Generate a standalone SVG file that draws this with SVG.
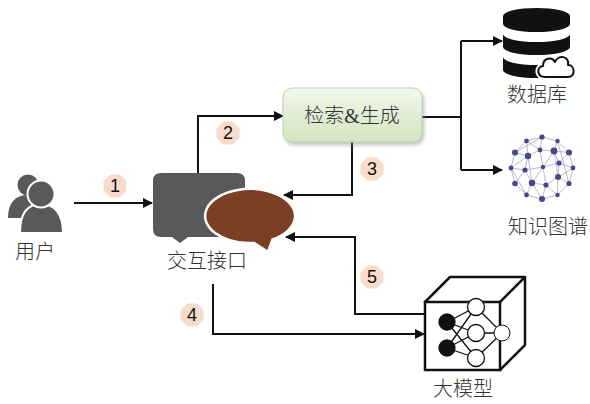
<svg xmlns="http://www.w3.org/2000/svg" width="590" height="404" viewBox="0 0 590 404">
  <style>
    .lbl { font-family: "Liberation Serif", "Noto Sans CJK SC", serif; font-size: 20px; font-weight: 300; fill: #333; text-anchor: middle; }
    .num { font-family: "Liberation Sans", "Noto Sans", sans-serif; font-size: 18px; fill: #111; text-anchor: middle; }
    .badge { fill: #f8dccb; }
    .wire { fill: none; stroke: #111; stroke-width: 2; }
    .arrow { fill: none; stroke: #111; stroke-width: 2; marker-end: url(#head); }
    .kg-edge { stroke: #a9a9b8; stroke-width: 0.8; }
    .kg-node { fill: #46468a; }
    .nn { stroke: #111; stroke-width: 1.3; }
  </style>
  <defs>
    <marker id="head" viewBox="0 0 10 10" refX="9" refY="5" markerWidth="5" markerHeight="5" orient="auto" markerUnits="strokeWidth">
      <path d="M0,0 L10,5 L0,10 Z" fill="#111"/>
    </marker>
    <polygon id="oct" points="11.5,4.8 4.8,11.5 -4.8,11.5 -11.5,4.8 -11.5,-4.8 -4.8,-11.5 4.8,-11.5 11.5,-4.8"/>
    <linearGradient id="boxFill" x1="0" y1="0" x2="0" y2="1">
      <stop offset="0" stop-color="#f1f7eb"/>
      <stop offset="1" stop-color="#d3e4c2"/>
    </linearGradient>
    <filter id="soft" x="-20%" y="-20%" width="140%" height="150%">
      <feGaussianBlur stdDeviation="2"/>
    </filter>
  </defs>

  <!-- connectors -->
  <g id="connectors">
    <path class="arrow" d="M74,203 H152"/>
    <path class="arrow" d="M198,173 V116 H283"/>
    <path class="wire" d="M422,117 H461 M461,41 V170"/>
    <path class="arrow" d="M461,41 H502"/>
    <path class="arrow" d="M461,170 H502"/>
    <path class="arrow" d="M352,142 V195 H284"/>
    <path class="arrow" d="M427,314 H355 V237 H286"/>
    <path class="arrow" d="M213,284 V334 H424"/>
  </g>

  <!-- step badges -->
  <g id="badges">
    <use href="#oct" class="badge" x="115" y="186"/>
    <text class="num" x="115" y="192">1</text>
    <use href="#oct" class="badge" x="228" y="133"/>
    <text class="num" x="228" y="139">2</text>
    <use href="#oct" class="badge" x="372" y="169"/>
    <text class="num" x="372" y="175">3</text>
    <use href="#oct" class="badge" x="192" y="315"/>
    <text class="num" x="192" y="321">4</text>
    <use href="#oct" class="badge" x="372" y="277"/>
    <text class="num" x="372" y="283">5</text>
  </g>

  <!-- user -->
  <g id="user">
    <circle cx="28" cy="185" r="10.5" fill="#58595b"/>
    <path d="M8,218 C8,203 15,195 28,195 C41,195 47,203 47,218 Z" fill="#58595b"/>
    <path d="M20,233 C20,213 28,204 41,204 C54,204 63,213 63,233 Z" fill="#58595b" stroke="#fff" stroke-width="2"/>
    <circle cx="41" cy="194" r="13.5" fill="#58595b" stroke="#fff" stroke-width="2"/>
    <text class="lbl" x="35" y="259">用户</text>
  </g>

  <!-- interaction interface -->
  <g id="interface">
    <path d="M161,173 H237 Q245,173 245,181 V229 Q245,237 237,237 H188 L180,243 L172,237 H161 Q153,237 153,229 V181 Q153,173 161,173 Z" fill="#58595b"/>
    <path d="M253.9,242.9 A45,27 0 1 1 272.5,239.4 L268,252 Z" fill="#7b3f26" stroke="#fff" stroke-width="2.5" stroke-linejoin="round"/>
    <text class="lbl" x="207" y="268">交互接口</text>
  </g>

  <!-- retrieval & generation -->
  <g id="retrieval">
    <rect x="285" y="91" width="139" height="54" rx="9" fill="#8a8a8a" opacity="0.55" filter="url(#soft)"/>
    <rect x="283" y="88" width="139" height="54" rx="9" fill="url(#boxFill)" stroke="#c3d0b6" stroke-width="1"/>
    <text class="lbl" x="352" y="123">检索&amp;生成</text>
  </g>

  <!-- database -->
  <g id="database">
    <path d="M503,16 A33.5,8 0 0 1 570,16 V24 A33.5,8 0 0 1 503,24 Z" fill="#111"/>
    <path d="M503,34 A33.5,8 0 0 0 570,34 V47 A33.5,8 0 0 1 503,47 Z" fill="#111"/>
    <path d="M503,57 A33.5,8 0 0 0 570,57 V70 A33.5,8 0 0 1 503,70 Z" fill="#111"/>
    <path d="M545,77 C537,77 536,67 543,66 C543,58 552,56 555,62 C558,54 570,56 568,65 C575,65 576,77 568,77 Z" fill="#fff" stroke="#fff" stroke-width="6" stroke-linejoin="round"/>
    <path d="M545,77 C537,77 536,67 543,66 C543,58 552,56 555,62 C558,54 570,56 568,65 C575,65 576,77 568,77 Z" fill="#fff" stroke="#111" stroke-width="2" stroke-linejoin="round"/>
    <text class="lbl" x="537" y="102">数据库</text>
  </g>

  <!-- knowledge graph -->
  <g id="knowledge-graph">
    <g class="kg-edge">
      <path d="M573,168 L569,152.5 L557.5,141 L542,137 L526.5,141 L515,152.5 L511,168 L515,183.5 L526.5,195 L542,199 L557.5,195 L569,183.5 Z" fill="none"/>
      <path d="M559,163 L554,151 L540,150 L528,156 L525,170 L532,183 L546,185 L558,177 Z" fill="none"/>
      <path d="M543,167 L559,163 M543,167 L540,150 M543,167 L525,170 M543,167 L546,185 M543,167 L554,151 M543,167 L532,183" fill="none"/>
      <path d="M573,168 L559,163 M569,152.5 L554,151 M557.5,141 L554,151 M542,137 L540,150 M526.5,141 L540,150 M515,152.5 L528,156 M511,168 L525,170 M515,183.5 L525,170 M526.5,195 L532,183 M542,199 L546,185 M557.5,195 L546,185 M569,183.5 L558,177 M573,168 L558,177 M569,152.5 L559,163 M526.5,141 L528,156 M511,168 L528,156 M542,199 L532,183 M557.5,195 L558,177" fill="none"/>
      <path d="M557.5,141 L569,183.5 M515,152.5 L542,137 M526.5,195 L511,168 M554,151 L558,177 M528,156 L532,183" fill="none"/>
    </g>
    <g class="kg-node">
      <circle cx="573" cy="168" r="2.4"/><circle cx="569" cy="152.5" r="3"/><circle cx="557.5" cy="141" r="2.2"/>
      <circle cx="542" cy="137" r="2.6"/><circle cx="526.5" cy="141" r="2.4"/><circle cx="515" cy="152.5" r="3"/>
      <circle cx="511" cy="168" r="2.4"/><circle cx="515" cy="183.5" r="2.8"/><circle cx="526.5" cy="195" r="2.4"/>
      <circle cx="542" cy="199" r="3"/><circle cx="557.5" cy="195" r="2.2"/><circle cx="569" cy="183.5" r="2.6"/>
      <circle cx="559" cy="163" r="2.6"/><circle cx="554" cy="151" r="3.4"/><circle cx="540" cy="150" r="2.4"/>
      <circle cx="528" cy="156" r="3.2"/><circle cx="525" cy="170" r="2.6"/><circle cx="532" cy="183" r="3.2"/>
      <circle cx="546" cy="185" r="2.6"/><circle cx="558" cy="177" r="3"/><circle cx="543" cy="167" r="2.2"/>
    </g>
    <text class="lbl" x="548" y="234">知识图谱</text>
  </g>

  <!-- large model -->
  <g id="large-model">
    <path d="M425,302 L450,277 H525 V345 L500,370 Z" fill="#fff" stroke="#111" stroke-width="2.5" stroke-linejoin="round"/>
    <path d="M500,302 L525,277" fill="none" stroke="#111" stroke-width="2.5"/>
    <rect x="425" y="302" width="75" height="68" fill="#fff" stroke="#111" stroke-width="2.5"/>
    <g class="nn">
      <path d="M447,322 L476,307 M447,322 L476,333 M447,322 L476,358 M447,348 L476,307 M447,348 L476,333 M447,348 L476,358 M476,307 L502,333 M476,333 L502,333 M476,358 L502,333" fill="none"/>
      <circle cx="447" cy="322" r="8" fill="#111"/>
      <circle cx="447" cy="348" r="8" fill="#111"/>
      <circle cx="476" cy="307" r="8.5" fill="#fff"/>
      <circle cx="476" cy="333" r="8.5" fill="#fff"/>
      <circle cx="476" cy="358" r="8.5" fill="#fff"/>
      <circle cx="502" cy="333" r="8" fill="#fff" stroke-width="1"/>
    </g>
    <text class="lbl" x="463" y="396">大模型</text>
  </g>
</svg>
